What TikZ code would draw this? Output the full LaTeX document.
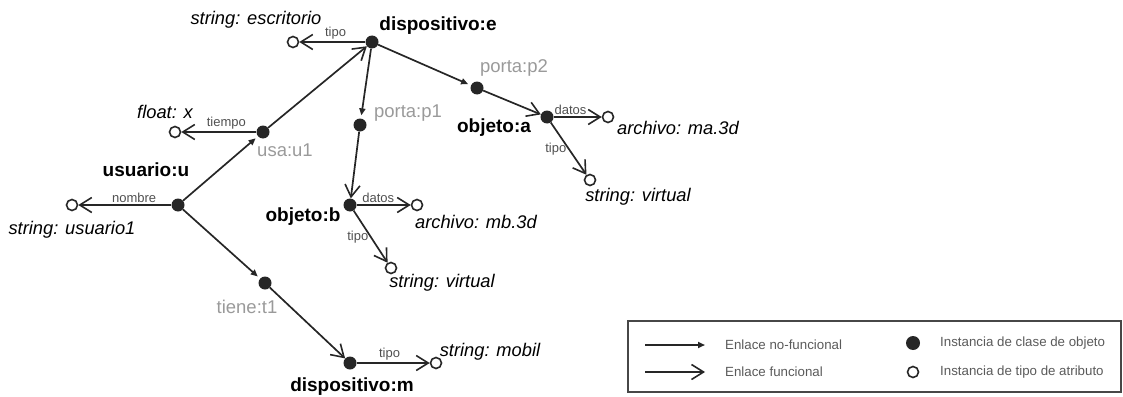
\documentclass[tikz,border=0pt]{standalone}
\usepackage{fontspec}
\setmainfont{Liberation Sans}
\usetikzlibrary{arrows.meta}

\definecolor{inkline}{HTML}{262626}
\definecolor{namegray}{HTML}{9A9A9A}
\definecolor{tagcolor}{HTML}{505050}
\definecolor{legendtxt}{HTML}{5A5A5A}

\tikzset{
  obj_pt/.style={circle,minimum size=13pt,inner sep=0pt,fill=inkline,draw=none},
  attr_pt/.style={circle,minimum size=11pt,inner sep=0pt,fill=white,draw=inkline,line width=1.6pt},
  nf_link/.style={draw=inkline,line width=1.7pt,-{Triangle[length=7pt,width=6pt]},shorten >=3pt},
  f_link/.style={draw=inkline,line width=1.7pt,-{Straight Barb[length=12pt,width=15pt,line width=1.6pt]}},
  obj_name/.style={font=\fontsize{19}{21}\selectfont\bfseries,text=black,inner sep=0pt},
  rel_name/.style={font=\fontsize{18.5}{20}\selectfont,text=namegray,inner sep=0pt},
  attr_name/.style={font=\fontsize{18.3}{20}\selectfont\itshape,text=black,inner sep=0pt},
  tag/.style={font=\fontsize{13}{14}\selectfont,text=tagcolor,inner sep=1.5pt},
  legend_txt/.style={font=\fontsize{13.3}{15}\selectfont,text=legendtxt,inner sep=0pt,anchor=west},
}

\begin{document}
\begin{tikzpicture}[x=1pt,y=-1pt]
  \useasboundingbox (0,0) rectangle (1123,396);

  % object instances
  \foreach \Name/\X/\Y in {dispE/372/42, usaU/263/132, usrU/178/205,
      portaA/360/125, portaB/477/88, objA/547/117, objB/350/205,
      tieneT/265/283, dispM/350/363}{
    \node[obj_pt] (\Name) at (\X,\Y) {};
  }

  % attribute instances
  \foreach \Name/\X/\Y in {escr/293/42, flx/175/132, usr1/72/205,
      mbfile/417/205, virtB/391/268, mafile/608/117, virtA/590/180,
      mobil/436/363}{
    \node[attr_pt] (\Name) at (\X,\Y) {};
  }

  % names
  \node[obj_name] (n_dispE) at (438,26) {dispositivo:e};
  \node[obj_name] (n_usrU) at (146,170) {usuario:u};
  \node[obj_name] (n_objA) at (494,128) {objeto:a};
  \node[obj_name] (n_objB) at (303,217) {objeto:b};
  \node[obj_name] (n_dispM) at (352,387) {dispositivo:m};

  \node[rel_name] (n_usaU) at (285,150) {usa:u1};
  \node[rel_name] (n_portaA) at (408,113) {porta:p1};
  \node[rel_name] (n_portaB) at (514,68) {porta:p2};
  \node[rel_name] (n_tieneT) at (247,307) {tiene:t1};

  \node[attr_name] (n_escr) at (256,20) {string: escritorio};
  \node[attr_name] (n_flx) at (165,112) {float: x};
  \node[attr_name] (n_usr1) at (72,230) {string: usuario1};
  \node[attr_name] (n_mbfile) at (476,222) {archivo: mb.3d};
  \node[attr_name] (n_virtB) at (442,283) {string: virtual};
  \node[attr_name] (n_mafile) at (678,128) {archivo: ma.3d};
  \node[attr_name] (n_virtA) at (638,197) {string: virtual};
  \node[attr_name] (n_mobil) at (490,352) {string: mobil};

  % links
  \draw[nf_link] (usrU) -- (usaU);
  \draw[nf_link] (dispE) -- (portaA);
  \draw[nf_link] (dispE) -- (portaB);
  \draw[nf_link] (usrU) -- (tieneT);

  \draw[f_link] (usaU) -- (dispE);
  \draw[f_link] (portaA) -- (objB);
  \draw[f_link] (portaB) -- (objA);
  \draw[f_link] (tieneT) -- (dispM);

  \draw[f_link] (dispE) -- (escr) node[tag,above,pos=0.45] (t_escr) {tipo};
  \draw[f_link] (usaU) -- (flx) node[tag,above,pos=0.4] (t_flx) {tiempo};
  \draw[f_link] (usrU) -- (usr1) node[tag,above,pos=0.4] (t_usr1) {nombre};
  \draw[f_link] (objB) -- (mbfile) node[tag,above,pos=0.4] (t_mbfile) {datos};
  \draw[f_link] (objB) -- (virtB) node[tag,left,pos=0.5] (t_virtB) {tipo};
  \draw[f_link] (objA) -- (mafile) node[tag,above,pos=0.35] (t_mafile) {datos};
  \draw[f_link] (objA) -- (virtA) node[tag,left,pos=0.5] (t_virtA) {tipo};
  \draw[f_link] (dispM) -- (mobil) node[tag,above,pos=0.45] (t_mobil) {tipo};

  % legend
  \draw[draw=inkline!85,line width=1.6pt] (628,321) rectangle (1121,392);
  \coordinate (lg_nf_s) at (645,345);
  \coordinate (lg_nf_e) at (705,345);
  \coordinate (lg_f_s) at (645,372);
  \coordinate (lg_f_e) at (705,372);
  \draw[nf_link,shorten >=0pt] (lg_nf_s) -- (lg_nf_e);
  \draw[f_link] (lg_f_s) -- (lg_f_e);
  \node[legend_txt] (lg_nf_txt) at (725,345) {Enlace no-funcional};
  \node[legend_txt] (lg_f_txt) at (725,372) {Enlace funcional};
  \node[obj_pt,minimum size=14pt] (lg_obj) at (913,343) {};
  \node[attr_pt,minimum size=11pt] (lg_attr) at (913,372) {};
  \node[legend_txt] (lg_obj_txt) at (940,343) {Instancia de clase de objeto};
  \node[legend_txt] (lg_attr_txt) at (940,372) {Instancia de tipo de atributo};
\end{tikzpicture}
\end{document}
